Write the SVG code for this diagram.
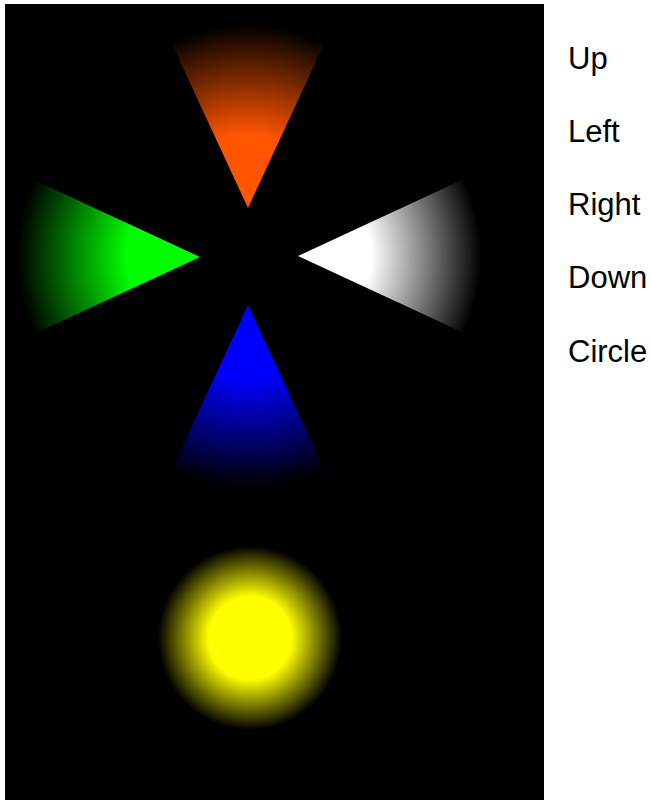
<svg xmlns="http://www.w3.org/2000/svg" width="651" height="800" viewBox="0 0 651 800">
<style>
.lbl{font-family:"Liberation Sans",Arial,sans-serif;font-size:31px;fill:#000}
</style>
<defs>
<radialGradient id="gUp" gradientUnits="userSpaceOnUse" cx="248" cy="208" r="183">
<stop offset="0" stop-color="#ff5500"/><stop offset="0.4" stop-color="#ff5500"/><stop offset="1" stop-color="#000"/>
</radialGradient>
<radialGradient id="gLeft" gradientUnits="userSpaceOnUse" cx="200" cy="257" r="183">
<stop offset="0" stop-color="#00ff00"/><stop offset="0.4" stop-color="#00ff00"/><stop offset="1" stop-color="#000"/>
</radialGradient>
<radialGradient id="gRight" gradientUnits="userSpaceOnUse" cx="298" cy="256" r="183">
<stop offset="0" stop-color="#ffffff"/><stop offset="0.4" stop-color="#ffffff"/><stop offset="1" stop-color="#000"/>
</radialGradient>
<radialGradient id="gDown" gradientUnits="userSpaceOnUse" cx="248" cy="305" r="183">
<stop offset="0" stop-color="#0000ff"/><stop offset="0.4" stop-color="#0000ff"/><stop offset="1" stop-color="#000"/>
</radialGradient>
<radialGradient id="gCircle" gradientUnits="userSpaceOnUse" cx="250" cy="638" r="92">
<stop offset="0" stop-color="#ffff00"/><stop offset="0.45" stop-color="#ffff00"/><stop offset="1" stop-color="#000"/>
</radialGradient>
</defs>
<rect x="5" y="4" width="539" height="796" fill="#000"/>
<g id="up"><path d="M248,208 L171,42 A183,183 0 0 1 325,42 Z" fill="url(#gUp)"/></g>
<g id="left"><path d="M200,257 L34,334 A183,183 0 0 1 34,180 Z" fill="url(#gLeft)"/></g>
<g id="right"><path d="M298,256 L464,179 A183,183 0 0 1 464,333 Z" fill="url(#gRight)"/></g>
<g id="down"><path d="M248,305 L325,471 A183,183 0 0 1 171,471 Z" fill="url(#gDown)"/></g>
<g id="circle"><circle cx="250" cy="638" r="92" fill="url(#gCircle)"/></g>
<g id="labels">
<text class="lbl" x="568" y="69">Up</text>
<text class="lbl" x="568" y="142">Left</text>
<text class="lbl" x="568" y="215">Right</text>
<text class="lbl" x="568" y="288">Down</text>
<text class="lbl" x="568" y="362">Circle</text>
</g>
</svg>
